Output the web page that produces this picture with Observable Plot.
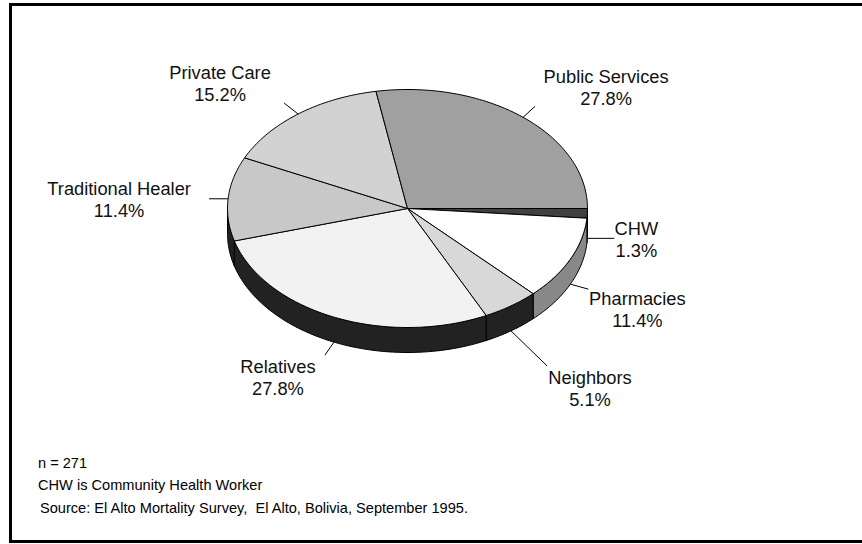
<!DOCTYPE html>
<html><head><meta charset="utf-8">
<script src="https://cdn.jsdelivr.net/npm/d3@7"></script>
<script src="https://cdn.jsdelivr.net/npm/@observablehq/plot@0.6"></script>
<style>
html,body{margin:0;padding:0;background:#fff;overflow:hidden;width:862px;height:544px;}
#frame{position:absolute;left:9px;top:3px;width:900px;height:534px;border:3px solid #000;}
#chart{position:absolute;left:0;top:0;}
.note{position:absolute;left:38px;font-family:"Liberation Sans",Arial,sans-serif;font-size:14.6px;line-height:16px;color:#000;white-space:pre;}
</style></head><body>
<div id="frame"></div>
<div id="chart"></div>
<div id="notes"></div>
<script>
// ---- data ----
const categories = ["CHW", "Pharmacies", "Neighbors", "Relatives", "Traditional Healer", "Private Care", "Public Services"];
const shares = [1.3, 11.4, 5.1, 27.8, 11.4, 15.2, 27.8];
const topColors = ["#404040", "#ffffff", "#d8d8d8", "#f2f2f2", "#c8c8c8", "#d2d2d2", "#a0a0a0"];
const sideColors = ["#3a3a3a", "#888888", "#222222", "#222222", "#222222", "#222222", "#555555"];
const notes = ["n = 271", "CHW is Community Health Worker", "Source: El Alto Mortality Survey,  El Alto, Bolivia, September 1995."];

// ---- layout ----
const W = 862, H = 544;
const pie = {cx: 407, cy: 208, rx: 180, ry: 119, depth: 25};
// leader line end offsets and label block offsets (pixels)
const leaderEnd = {"CHW": [27, 0], "Pharmacies": [18, 5], "Neighbors": [36, 35], "Relatives": [-9, 13], "Traditional Healer": [-19, 0], "Private Care": [-14, -11], "Public Services": [12, -11]};
const labelShift = {"CHW": [22, 1], "Pharmacies": [49, 20], "Neighbors": [43, 22], "Relatives": [-47, 22], "Traditional Healer": [-90, 0], "Private Care": [-64, -20], "Public Services": [71, -19]};
const notePos = [[38, 455], [38, 477], [40, 500]];

const ux = p => p / pie.rx, uy = p => p / pie.ry;
const d = uy(pie.depth);
const total = d3.sum(shares);
const TAU = Math.PI * 2;

let acc = 0;
const slices = categories.map((name, i) => {
  const a0 = acc / total * TAU; acc += shares[i];
  const a1 = acc / total * TAU;
  return {name, i, a0, a1, share: shares[i]};
});

function arc(a0, a1) {
  const n = Math.max(2, Math.ceil((a1 - a0) / (Math.PI / 180)));
  return d3.range(n + 1).map(k => a0 + (a1 - a0) * k / n);
}

const topRows = [], sideRows = [];
for (const s of slices) {
  const pts = [[0, 0], ...arc(s.a0, s.a1).map(t => [Math.cos(t), Math.sin(t)]), [0, 0]];
  pts.forEach(([x, y]) => topRows.push({id: s.name, fillColor: topColors[s.i], x, y}));
  const b0 = Math.max(s.a0, 0), b1 = Math.min(s.a1, Math.PI);
  if (b1 > b0) {
    const ts = arc(b0, b1);
    const upper = ts.map(t => [Math.cos(t), Math.sin(t)]);
    const lower = ts.slice().reverse().map(t => [Math.cos(t), Math.sin(t) + d]);
    [...upper, ...lower, upper[0]].forEach(([x, y]) => sideRows.push({id: s.name, fillColor: sideColors[s.i], x, y}));
  }
}

const labelRows = slices.map(s => {
  const m = (s.a0 + s.a1) / 2;
  const front = Math.sin(m) > 0;
  const x1 = Math.cos(m), y1 = Math.sin(m) + (front ? d : 0);
  const [ex, ey] = leaderEnd[s.name];
  const x2 = x1 + ux(ex), y2 = y1 + uy(ey);
  const [lx, ly] = labelShift[s.name];
  return {x1, y1, x2, y2, tx: x2 + ux(lx), ty: y2 + uy(ly), label: `${s.name}\n${s.share.toFixed(1)}%`};
});

const chart = Plot.plot({
  width: W, height: H, margin: 0,
  style: {background: "transparent", fontFamily: "'Liberation Sans', Arial, sans-serif"},
  x: {domain: [-1, 1], range: [pie.cx - pie.rx, pie.cx + pie.rx], axis: null},
  y: {domain: [-1, 1], range: [pie.cy - pie.ry, pie.cy + pie.ry], axis: null},
  color: {type: "identity"},
  marks: [
    Plot.line(sideRows, {x: "x", y: "y", z: "id", fill: "fillColor", stroke: "#000", strokeWidth: 1, strokeLinejoin: "round"}),
    Plot.line(topRows, {x: "x", y: "y", z: "id", fill: "fillColor", stroke: "#000", strokeWidth: 1, strokeLinejoin: "round"}),
    Plot.link(labelRows, {x1: "x1", y1: "y1", x2: "x2", y2: "y2", stroke: "#000", strokeWidth: 1}),
    Plot.text(labelRows, {x: "tx", y: "ty", text: "label", fontSize: 18.3, lineHeight: 1.2, fill: "#111"})
  ]
});
document.getElementById("chart").appendChild(chart);

const notesEl = document.getElementById("notes");
notes.forEach((t, i) => {
  const el = document.createElement("div");
  el.className = "note";
  el.style.left = notePos[i][0] + "px";
  el.style.top = notePos[i][1] + "px";
  el.textContent = t;
  notesEl.appendChild(el);
});
</script>
</body></html>
